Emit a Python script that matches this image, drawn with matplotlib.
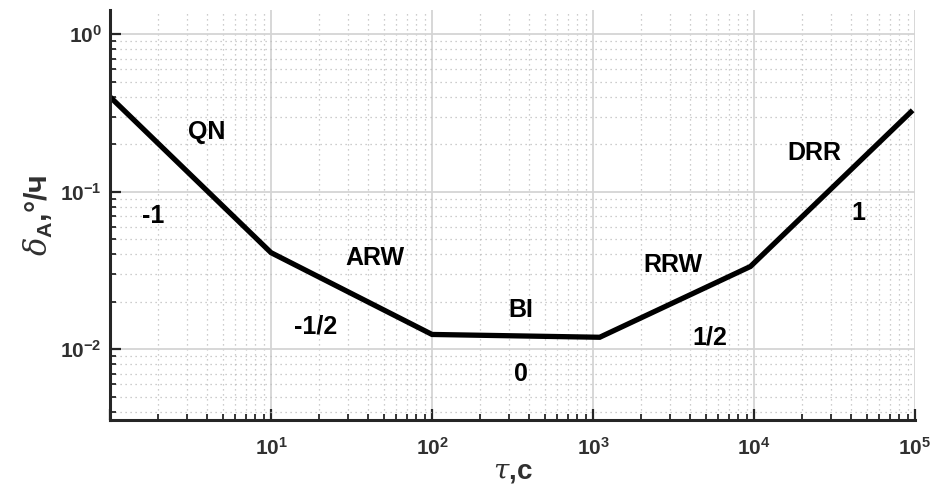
import matplotlib
matplotlib.use("Agg")
import matplotlib.pyplot as plt
from matplotlib.ticker import LogLocator, NullFormatter, FuncFormatter
import math

plt.rcParams['font.family'] = ['Liberation Sans', 'DejaVu Sans']
plt.rcParams['mathtext.fontset'] = 'custom'
plt.rcParams['mathtext.it'] = 'DejaVu Serif:italic'
plt.rcParams['mathtext.bf'] = 'Liberation Sans:bold'
plt.rcParams['mathtext.rm'] = 'Liberation Sans:bold'

# Allan deviation asymptotes (tau, s ; deviation, deg/h)
tau = [1, 10, 100, 1100, 9500, 94000]
adev = [0.40, 0.041, 0.0124, 0.0119, 0.0335, 0.32]

# region labels
lbl_text = ['QN', '-1', 'ARW', '-1/2', 'BI', '0', 'RRW', '1/2', 'DRR', '1']
lbl_x = [4.0, 1.85, 44, 19, 357, 357, 3140, 5330, 23600, 44300]
lbl_y = [0.239, 0.0699, 0.0378, 0.014, 0.0177, 0.00693, 0.0341, 0.0119, 0.175, 0.073]


def pow_fmt(v, pos):
    e = int(round(math.log10(v)))
    return r'$\mathbf{10^{%d}}$' % e


def pow_fmt_x(v, pos):
    if v < 5:
        return ''
    return pow_fmt(v, pos)


fig = plt.figure(figsize=(9.3, 4.86), dpi=100)
ax = fig.add_axes([0.1183, 0.1358, 0.8656, 0.8432])

ax.loglog(tau, adev, color='black', linewidth=3.8, solid_joinstyle='miter')

for t, x, y in zip(lbl_text, lbl_x, lbl_y):
    ax.text(x, y, t, fontsize=18, fontweight='bold', ha='center', va='center')

ax.set_xlim(1, 1e5)
ax.set_ylim(0.00355, 1.42)

ax.xaxis.set_major_locator(LogLocator(base=10, numticks=10))
ax.xaxis.set_minor_locator(LogLocator(base=10, subs=range(2, 10), numticks=50))
ax.yaxis.set_major_locator(LogLocator(base=10, numticks=10))
ax.yaxis.set_minor_locator(LogLocator(base=10, subs=range(2, 10), numticks=50))
ax.xaxis.set_major_formatter(FuncFormatter(pow_fmt_x))
ax.yaxis.set_major_formatter(FuncFormatter(pow_fmt))
ax.xaxis.set_minor_formatter(NullFormatter())
ax.yaxis.set_minor_formatter(NullFormatter())

ax.grid(True, which='major', color='#d4d4d4', linewidth=1.3, linestyle='-')
ax.grid(True, which='minor', color='#bdbdbd', linewidth=0.9, linestyle=(0, (1, 3)))

for s in ['top', 'right']:
    ax.spines[s].set_visible(False)
for s in ['left', 'bottom']:
    ax.spines[s].set_linewidth(2.2)
    ax.spines[s].set_color('#262626')

ax.tick_params(which='major', direction='in', length=8, width=1.6, colors='#262626',
               labelsize=15, labelcolor='#303030')
ax.tick_params(which='minor', direction='in', length=4, width=1.3, colors='#262626')
ax.tick_params(axis='x', which='major', pad=12)
ax.tick_params(axis='y', which='major', pad=6)

ax.set_xlabel(r'$\tau$,с', fontsize=20, fontweight='bold', color='#303030', labelpad=0)
ax.set_ylabel(r'$\delta_{\mathbf{A}}$,°/ч', fontsize=22, fontweight='bold', color='#303030',
              labelpad=4)

fig.savefig('out.png', dpi=100)
